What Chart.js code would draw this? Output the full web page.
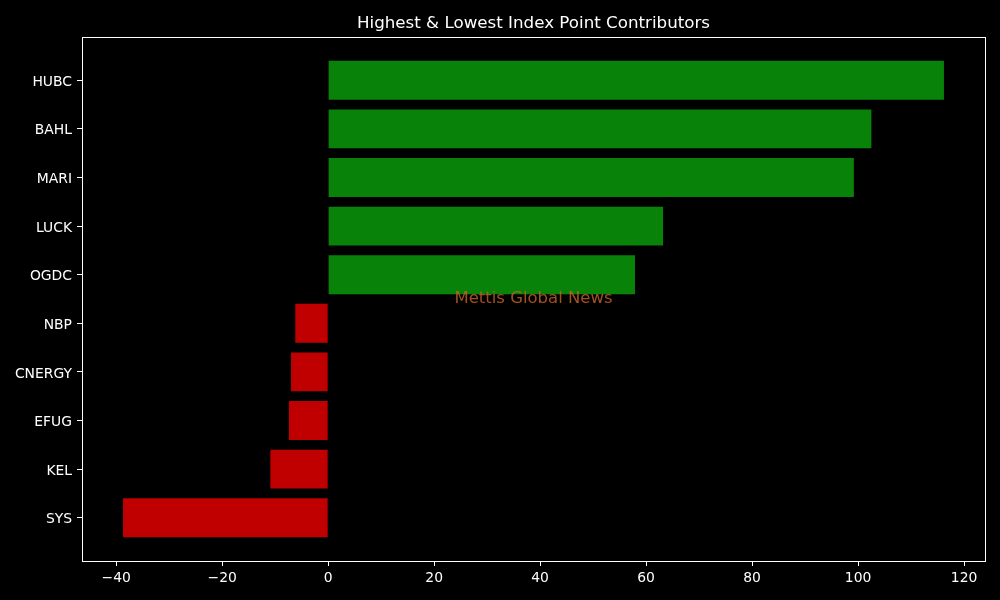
<!DOCTYPE html>
<html>
<head>
<meta charset="utf-8">
<script src="https://cdn.jsdelivr.net/npm/chart.js@4/dist/chart.umd.min.js"></script>
<style>
  html, body { margin: 0; padding: 0; background: #000; }
  #wrap { width: 1000px; height: 600px; }
</style>
</head>
<body>
<div id="wrap"><canvas id="chart" width="1000" height="600"></canvas></div>
<script>
// values
const symbols = ['HUBC', 'BAHL', 'MARI', 'LUCK', 'OGDC', 'NBP', 'CNERGY', 'EFUG', 'KEL', 'SYS'];
const points = [116.2, 102.5, 99.2, 63.2, 57.9, -6.2, -7.0, -7.4, -10.9, -38.7];
const xTicks = [-40, -20, 0, 20, 40, 60, 80, 100, 120];

const titleText = 'Highest & Lowest Index Point Contributors';
const watermark = 'Mettis Global News';
const font = 'DejaVu Sans';

// matplotlib style 5% margins
const minV = Math.min(...points), maxV = Math.max(...points);
const span = maxV - minV;
const xMin = minV - span * 0.05, xMax = maxV + span * 0.05;
const ySpan = (symbols.length - 1) + 0.8;
const yMin = -0.4 - ySpan * 0.05, yMax = symbols.length - 0.6 + ySpan * 0.05;

const extras = {
    id: 'extras',
    beforeDraw(chart) {
        const c = chart.ctx;
        c.save();
        c.fillStyle = '#000';
        c.fillRect(0, 0, chart.width, chart.height);
        c.restore();
    },
    afterDraw(chart) {
        const c = chart.ctx, a = chart.chartArea;
        c.save();
        c.strokeStyle = '#fff';
        c.lineWidth = 1;
        c.strokeRect(Math.round(a.left) + 0.5, Math.round(a.top) + 0.5,
            Math.round(a.right - a.left), Math.round(a.bottom - a.top));
        c.fillStyle = '#fff';
        c.font = '16.7px "' + font + '"';
        c.textAlign = 'center';
        c.textBaseline = 'middle';
        c.fillText(titleText, (a.left + a.right) / 2, 23.5);
        c.fillStyle = 'rgba(200, 100, 40, 0.8)';
        c.font = '16.5px "' + font + '"';
        c.fillText(watermark, (a.left + a.right) / 2, (a.top + a.bottom) / 2);
        c.restore();
    }
};

new Chart(document.getElementById('chart'), {
    type: 'bar',
    data: {
        datasets: [{
            data: points.map((v, i) => ({ x: v, y: i })),
            backgroundColor: points.map(v => v >= 0 ? '#088208' : '#c00000'),
            barPercentage: 0.8,
            categoryPercentage: 1.0
        }]
    },
    options: {
        indexAxis: 'y',
        responsive: false,
        animation: false,
        devicePixelRatio: 1,
        layout: { padding: { top: 37, right: 15, left: 0, bottom: 0 } },
        plugins: {
            legend: { display: false },
            tooltip: { enabled: false }
        },
        scales: {
            x: {
                type: 'linear',
                min: xMin,
                max: xMax,
                afterBuildTicks: s => { s.ticks = xTicks.map(v => ({ value: v })); },
                afterFit: s => { s.height = 39; },
                grid: { display: true, drawOnChartArea: false, drawTicks: true, tickLength: 5, color: '#fff' },
                border: { display: false },
                ticks: {
                    color: '#fff',
                    padding: 4,
                    font: { family: font, size: 13.9 },
                    callback: v => String(v).replace('-', '\u2212')
                }
            },
            y: {
                type: 'linear',
                reverse: true,
                offset: false,
                min: yMin,
                max: yMax,
                afterBuildTicks: s => { s.ticks = symbols.map((_, i) => ({ value: i })); },
                afterFit: s => { s.width = 82; },
                grid: { display: true, offset: false, drawOnChartArea: false, drawTicks: true, tickLength: 5, color: '#fff' },
                border: { display: false },
                ticks: {
                    color: '#fff',
                    padding: 5,
                    labelOffset: 2,
                    font: { family: font, size: 13.9 },
                    callback: v => symbols[v]
                }
            }
        }
    },
    plugins: [extras]
});
</script>
</body>
</html>
